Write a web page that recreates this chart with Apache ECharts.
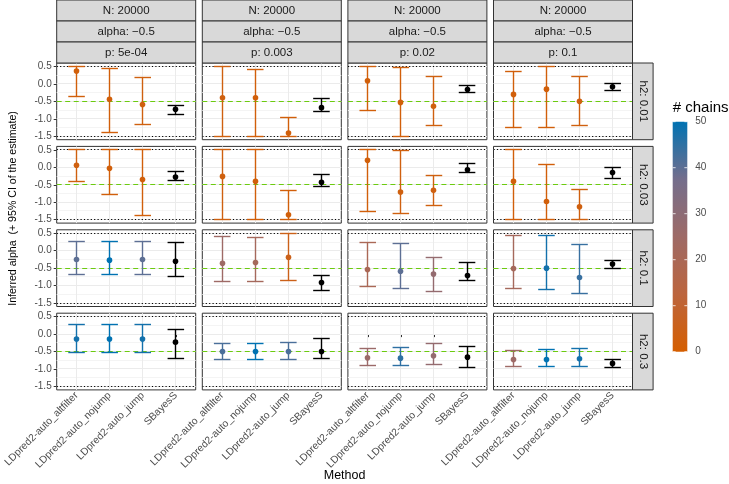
<!DOCTYPE html>
<html><head><meta charset="utf-8">
<script src="https://cdn.jsdelivr.net/npm/echarts@6/dist/echarts.min.js"></script>
<style>html,body{margin:0;padding:0;background:#fff}#c{width:729px;height:484px}</style>
</head><body><div id="c"></div>
<script>
// ---------- data ----------
const methods = ['LDpred2-auto_altfilter', 'LDpred2-auto_nojump', 'LDpred2-auto_jump', 'SBayesS'];
const pLabels = ['5e-04', '0.003', '0.02', '0.1'];
const h2Labels = ['0.01', '0.03', '0.1', '0.3'];
const nLabel = 'N: 20000';
const alphaLabel = 'alpha: \u22120.5';
const yTicks = [-1.5, -1, -0.5, 0, 0.5];
const yMinor = [-1.25, -0.75, -0.25, 0.25];
const trueAlpha = -0.5;
const boundLines = [-1.5, 0.5];
const legendTicks = [0, 10, 20, 30, 40, 50];
const chainColors = ['#D55E00', '#BC653E', '#9E6A66', '#746E8C', '#0072B2'];

// each row: one array per p column, values per method
const est_h2_001 = [[0.37, -0.44, -0.59, -0.73], [-0.40, -0.40, -1.41, -0.68], [0.09, -0.53, -0.64, -0.16], [-0.30, -0.15, -0.50, -0.08]];
const lo_h2_001  = [[-0.37, -1.38, -1.15, -0.88], [-1.5, -1.5, -1.5, -0.80], [-0.75, -1.5, -1.20, -0.26], [-1.24, -1.25, -1.18, -0.18]];
const hi_h2_001  = [[0.5, 0.44, 0.19, -0.61], [0.49, 0.41, -0.97, -0.41], [0.5, 0.46, 0.20, -0.05], [0.37, 0.49, 0.20, 0.0]];
const ch_h2_001  = [[2, 2, 3], [3, 2, 2], [2, 2, 3], [2, 2, 3]];

const est_h2_003 = [[0.06, -0.03, -0.35, -0.28], [-0.26, -0.40, -1.36, -0.43], [0.20, -0.71, -0.66, -0.07], [-0.40, -0.98, -1.13, -0.15]];
const lo_h2_003  = [[-0.42, -0.79, -1.37, -0.37], [-1.5, -1.5, -1.5, -0.54], [-1.28, -1.33, -1.09, -0.16], [-1.5, -1.5, -1.5, -0.31]];
const hi_h2_003  = [[0.5, 0.5, 0.5, -0.12], [0.5, 0.5, -0.66, -0.20], [0.5, 0.48, -0.23, 0.12], [0.5, 0.07, -0.64, 0.0]];
const ch_h2_003  = [[3, 2, 2], [3, 2, 2], [2, 3, 3], [2, 2, 3]];

const est_h2_01 = [[-0.25, -0.27, -0.25, -0.30], [-0.36, -0.34, -0.19, -0.91], [-0.54, -0.59, -0.67, -0.71], [-0.51, -0.50, -0.77, -0.38]];
const lo_h2_01  = [[-0.68, -0.68, -0.68, -0.75], [-0.89, -0.89, -0.84, -1.14], [-1.04, -1.07, -1.16, -0.85], [-1.07, -1.12, -1.23, -0.50]];
const hi_h2_01  = [[0.26, 0.27, 0.26, 0.24], [0.42, 0.38, 0.5, -0.72], [0.23, 0.20, -0.19, -0.33], [0.44, 0.45, 0.19, -0.29]];
const ch_h2_01  = [[40, 50, 40], [25, 22, 5], [20, 40, 28], [22, 48, 44]];

const est_h2_03 = [[-0.14, -0.14, -0.14, -0.23], [-0.50, -0.50, -0.50, -0.50], [-0.68, -0.69, -0.62, -0.66], [-0.73, -0.73, -0.71, -0.84]];
const lo_h2_03  = [[-0.52, -0.52, -0.52, -0.71], [-0.72, -0.73, -0.73, -0.71], [-0.89, -0.91, -0.88, -0.95], [-0.93, -0.94, -0.92, -0.95]];
const hi_h2_03  = [[0.28, 0.28, 0.28, 0.14], [-0.27, -0.27, -0.25, -0.12], [-0.42, -0.39, -0.26, -0.36], [-0.47, -0.45, -0.42, -0.74]];
const ch_h2_03  = [[48, 50, 48], [42, 50, 42], [26, 45, 28], [25, 50, 48]];

const estRows = [est_h2_001, est_h2_003, est_h2_01, est_h2_03];
const loRows = [lo_h2_001, lo_h2_003, lo_h2_01, lo_h2_03];
const hiRows = [hi_h2_001, hi_h2_003, hi_h2_01, hi_h2_03];
const chRows = [ch_h2_001, ch_h2_003, ch_h2_01, ch_h2_03];

// ---------- layout ----------
const FONT = '"Liberation Sans", Arial, Helvetica, sans-serif';
const L0 = 56.7, PW = 139, CSTEP = 145.6;
const T0 = 63, PH = 76.7, RSTEP = 83.4;
const STRIP_H = 21, RSTRIP_W = 20.6;
const CAP = 0.5;
const X_MIN = 0.4, X_MAX = 4.6, Y_MIN = -1.6, Y_MAX = 0.6;

const grids = [], xAxes = [], yAxes = [], series = [], graphics = [];
const ldSeries = [];
const snap = v => Math.round(v - 0.5) + 0.5;

function renderBg(params, api) {
  const kids = [];
  const hl = (y, w, stroke, dash) => {
    const a = api.coord([X_MIN, y]), b = api.coord([X_MAX, y]);
    const yy = snap(a[1]);
    const style = {stroke: stroke, lineWidth: w};
    if (dash) style.lineDash = dash;
    return {type: 'line', silent: true, shape: {x1: a[0], y1: yy, x2: b[0], y2: yy}, style: style};
  };
  yMinor.forEach(v => kids.push(hl(v, 1, '#F4F4F4')));
  yTicks.forEach(v => kids.push(hl(v, 1, '#EBEBEB')));
  [1, 2, 3, 4].forEach(v => {
    const a = api.coord([v, Y_MIN]), b = api.coord([v, Y_MAX]);
    const xx = snap(a[0]);
    kids.push({type: 'line', silent: true, shape: {x1: xx, y1: a[1], x2: xx, y2: b[1]}, style: {stroke: '#EBEBEB', lineWidth: 1}});
  });
  boundLines.forEach(v => kids.push(hl(v, 1.2, '#000000', [1.2, 2.2])));
  kids.push(hl(trueAlpha, 1.2, '#6CCB10', [5, 3.5]));
  return {type: 'group', children: kids};
}

function renderEB(params, api) {
  const x = api.value(0), est = api.value(1), lo = api.value(3), hi = api.value(4);
  const color = api.visual('color');
  const pLo = api.coord([x, lo]), pHi = api.coord([x, hi]), pE = api.coord([x, est]);
  const l = api.coord([x - CAP / 2, lo])[0], r = api.coord([x + CAP / 2, lo])[0];
  const xx = snap(pLo[0]), yLo = snap(pLo[1]), yHi = snap(pHi[1]);
  const mk = () => ({stroke: color, lineWidth: 1.4});
  return {type: 'group', children: [
    {type: 'line', shape: {x1: xx, y1: yHi, x2: xx, y2: yLo}, style: mk()},
    {type: 'line', shape: {x1: l, y1: yHi, x2: r, y2: yHi}, style: mk()},
    {type: 'line', shape: {x1: l, y1: yLo, x2: r, y2: yLo}, style: mk()},
    {type: 'circle', shape: {cx: xx, cy: pE[1], r: 2.8}, style: {fill: color}}
  ]};
}

for (let r = 0; r < 4; r++) {
  for (let c = 0; c < 4; c++) {
    const gi = r * 4 + c;
    const left = L0 + c * CSTEP, top = T0 + r * RSTEP;
    grids.push({left: left, top: top, width: PW, height: PH, show: true, borderColor: '#333333', borderWidth: 1, backgroundColor: 'transparent'});
    xAxes.push({gridIndex: gi, type: 'value', min: X_MIN, max: X_MAX,
      axisLine: {show: false}, splitLine: {show: false},
      axisTick: {show: r === 3, customValues: [1, 2, 3, 4], length: 3, lineStyle: {color: '#333333', width: 1}},
      axisLabel: {show: r === 3, customValues: [1, 2, 3, 4], formatter: v => methods[Math.round(v) - 1],
        rotate: 45, margin: 4, fontSize: 10.3, color: '#4D4D4D', fontFamily: FONT}});
    yAxes.push({gridIndex: gi, type: 'value', min: Y_MIN, max: Y_MAX,
      axisLine: {show: false}, splitLine: {show: false},
      axisTick: {show: c === 0, customValues: yTicks, length: 3, lineStyle: {color: '#333333', width: 1}},
      axisLabel: {show: c === 0, customValues: yTicks, formatter: v => v.toFixed(1), margin: 5,
        fontSize: 10, color: '#4D4D4D', fontFamily: FONT}});
    series.push({type: 'custom', xAxisIndex: gi, yAxisIndex: gi, silent: true, z: 1,
      renderItem: renderBg, data: [[1, 0]]});
    const ld = [];
    for (let k = 0; k < 3; k++) ld.push([k + 1, estRows[r][c][k], chRows[r][c][k], loRows[r][c][k], hiRows[r][c][k]]);
    ldSeries.push(series.length);
    series.push({type: 'custom', name: 'LDpred2', xAxisIndex: gi, yAxisIndex: gi, z: 3, renderItem: renderEB, data: ld});
    series.push({type: 'custom', name: 'SBayesS', xAxisIndex: gi, yAxisIndex: gi, z: 3, renderItem: renderEB,
      itemStyle: {color: '#000000'},
      data: [[4, estRows[r][c][3], null, loRows[r][c][3], hiRows[r][c][3]]]});
  }
}

// strips
const stripRect = (x, y, w, h) => ({type: 'rect', shape: {x: x, y: y, width: w, height: h},
  style: {fill: '#D9D9D9', stroke: '#333333', lineWidth: 1}, z: 5});
for (let c = 0; c < 4; c++) {
  const left = L0 + c * CSTEP;
  [nLabel, alphaLabel, 'p: ' + pLabels[c]].forEach((t, i) => {
    const y = T0 - 3 * STRIP_H + i * STRIP_H;
    graphics.push(stripRect(left, y, PW, STRIP_H));
    graphics.push({type: 'text', z: 6, x: left + PW / 2, y: y + STRIP_H / 2,
      style: {text: t, align: 'center', verticalAlign: 'middle', fontSize: 11.5, fill: '#1A1A1A', fontFamily: FONT}});
  });
}
for (let r = 0; r < 4; r++) {
  const top = T0 + r * RSTEP, x = L0 + 3 * CSTEP + PW;
  graphics.push(stripRect(x, top, RSTRIP_W, PH));
  graphics.push({type: 'text', z: 6, x: x + RSTRIP_W / 2, y: top + PH / 2, rotation: -Math.PI / 2,
    style: {text: 'h2: ' + h2Labels[r], align: 'center', verticalAlign: 'middle', fontSize: 11.5, fill: '#1A1A1A', fontFamily: FONT}});
}
// axis titles
graphics.push({type: 'text', x: L0 + (3 * CSTEP + PW) / 2, y: 476,
  style: {text: 'Method', align: 'center', verticalAlign: 'middle', fontSize: 12.5, fill: '#000', fontFamily: FONT}});
graphics.push({type: 'text', x: 13, y: 208.5, rotation: Math.PI / 2,
  style: {text: 'Inferred alpha  (+ 95% CI of the estimate)', align: 'center', verticalAlign: 'middle', fontSize: 10.6, fill: '#000', fontFamily: FONT}});
// legend
graphics.push({type: 'text', x: 672.7, y: 108,
  style: {text: '# chains', align: 'left', verticalAlign: 'middle', fontSize: 15, fill: '#000', fontFamily: FONT}});

const LG = grids.length;
grids.push({left: 672.7, top: 121.7, width: 14.6, height: 230});
xAxes.push({gridIndex: LG, type: 'value', min: 0, max: 1, show: false});
yAxes.push({gridIndex: LG, type: 'value', min: 0, max: 50, position: 'right',
  axisLine: {show: false}, axisTick: {show: false}, splitLine: {show: false},
  axisLabel: {customValues: legendTicks, margin: 8, fontSize: 10, color: '#4D4D4D', fontFamily: FONT}});
series.push({type: 'custom', xAxisIndex: LG, yAxisIndex: LG, silent: true, data: [[0, 0]],
  renderItem: function (params, api) {
    const a = api.coord([0, 50]), b = api.coord([1, 0]);
    const stops = chainColors.slice().reverse().map((col, i, arr) => ({offset: i / (arr.length - 1), color: col}));
    const kids = [{type: 'rect', shape: {x: a[0], y: a[1], width: b[0] - a[0], height: b[1] - a[1]},
      style: {fill: {type: 'linear', x: 0, y: 0, x2: 0, y2: 1, colorStops: stops}}}];
    const tl = (b[0] - a[0]) / 5;
    legendTicks.forEach(v => {
      const p = api.coord([0, v]);
      kids.push({type: 'line', shape: {x1: a[0], y1: p[1], x2: a[0] + tl, y2: p[1]}, style: {stroke: '#fff', lineWidth: 0.8}});
      kids.push({type: 'line', shape: {x1: b[0] - tl, y1: p[1], x2: b[0], y2: p[1]}, style: {stroke: '#fff', lineWidth: 0.8}});
    });
    return {type: 'group', children: kids};
  }});

const chart = echarts.init(document.getElementById('c'), null, {renderer: 'canvas'});
chart.setOption({
  animation: false,
  backgroundColor: '#ffffff',
  grid: grids, xAxis: xAxes, yAxis: yAxes,
  visualMap: [{type: 'continuous', show: false, min: 0, max: 50, dimension: 2, seriesIndex: ldSeries,
    inRange: {color: chainColors}}],
  graphic: graphics,
  series: series
});
</script></body></html>
